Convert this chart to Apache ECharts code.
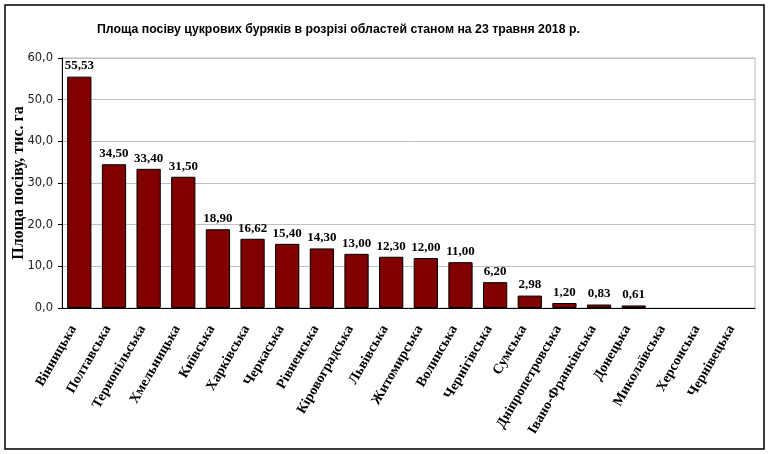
<!DOCTYPE html>
<html>
<head>
<meta charset="utf-8">
<script src="https://cdn.jsdelivr.net/npm/echarts@6/dist/echarts.min.js"></script>
<style>
  html, body { margin: 0; padding: 0; background: #fff; }
  #chart { width: 770px; height: 454px; }
</style>
</head>
<body>
<div id="chart"></div>
<script>
// області
var regions = ['Вінницька', 'Полтавська', 'Тернопільська', 'Хмельницька', 'Київська',
    'Харківська', 'Черкаська', 'Рівненська', 'Кіровоградська', 'Львівська',
    'Житомирська', 'Волинська', 'Чернігівська', 'Сумська', 'Дніпропетровська',
    'Івано-Франківська', 'Донецька', 'Миколаївська', 'Херсонська', 'Чернівецька'];

// площа посіву, тис. га
var area = [55.53, 34.50, 33.40, 31.50, 18.90, 16.62, 15.40, 14.30, 13.00, 12.30,
    12.00, 11.00, 6.20, 2.98, 1.20, 0.83, 0.61, 0, 0, 0];

var titleText = 'Площа посіву цукрових буряків в розрізі областей станом на 23 травня 2018 р.';
var yName = 'Площа посіву, тис. га';

var chartDom = document.getElementById('chart');
var myChart = echarts.init(chartDom);
var option;

option = {
    animation: false,
    title: {
        text: titleText,
        left: 92,
        top: 19,
        textStyle: {
            fontFamily: 'Liberation Sans',
            fontWeight: 'bold',
            fontSize: 12.3,
            color: '#000'
        }
    },
    graphic: [{
        type: 'rect',
        shape: { x: 5, y: 5, width: 759, height: 444 },
        style: { fill: 'none', stroke: '#000', lineWidth: 1.5 },
        silent: true
    }],
    grid: {
        left: 62,
        right: 15,
        top: 58,
        bottom: 146,
        containLabel: false,
        outerBoundsMode: 'none',
        show: true,
        borderColor: '#b8b8b8',
        borderWidth: 1
    },
    xAxis: {
        type: 'category',
        data: regions,
        axisLine: { lineStyle: { color: '#000', width: 1 } },
        axisTick: { length: 5, lineStyle: { color: '#000' } },
        axisLabel: {
            interval: 0,
            rotate: 60,
            margin: 22,
            verticalAlign: 'bottom',
            fontFamily: 'Liberation Serif',
            fontWeight: 'bold',
            fontSize: 14,
            color: '#000'
        }
    },
    yAxis: {
        type: 'value',
        min: 0,
        max: 60,
        interval: 10,
        name: yName,
        nameLocation: 'middle',
        nameGap: 35,
        nameMoveOverlap: false,
        nameTextStyle: {
            fontFamily: 'Liberation Serif',
            fontWeight: 'bold',
            fontSize: 16,
            color: '#000'
        },
        axisLine: { show: true, lineStyle: { color: '#000', width: 1 } },
        axisTick: { show: true, length: 4, lineStyle: { color: '#000' } },
        axisLabel: {
            margin: 9,
            fontFamily: 'DejaVu Sans',
            fontSize: 11.5,
            color: '#222',
            formatter: function(v) { return v.toFixed(1).replace('.', ','); }
        },
        splitLine: { lineStyle: { color: '#c0c0c0', width: 1 } }
    },
    series: [{
        type: 'bar',
        // нульові значення без обводки, як в оригіналі
        data: area.map(function(v) {
            return v > 0 ? v : { value: v, itemStyle: { borderWidth: 0 } };
        }),
        barWidth: '70%',
        itemStyle: {
            color: '#800000',
            borderColor: '#000',
            borderWidth: 1
        },
        label: {
            show: true,
            position: 'top',
            distance: 4,
            fontFamily: 'Liberation Serif',
            fontWeight: 'bold',
            fontSize: 13,
            color: '#000',
            formatter: function(p) {
                return p.value > 0 ? p.value.toFixed(2).replace('.', ',') : '';
            }
        }
    }]
};

option && myChart.setOption(option);
</script>
</body>
</html>
